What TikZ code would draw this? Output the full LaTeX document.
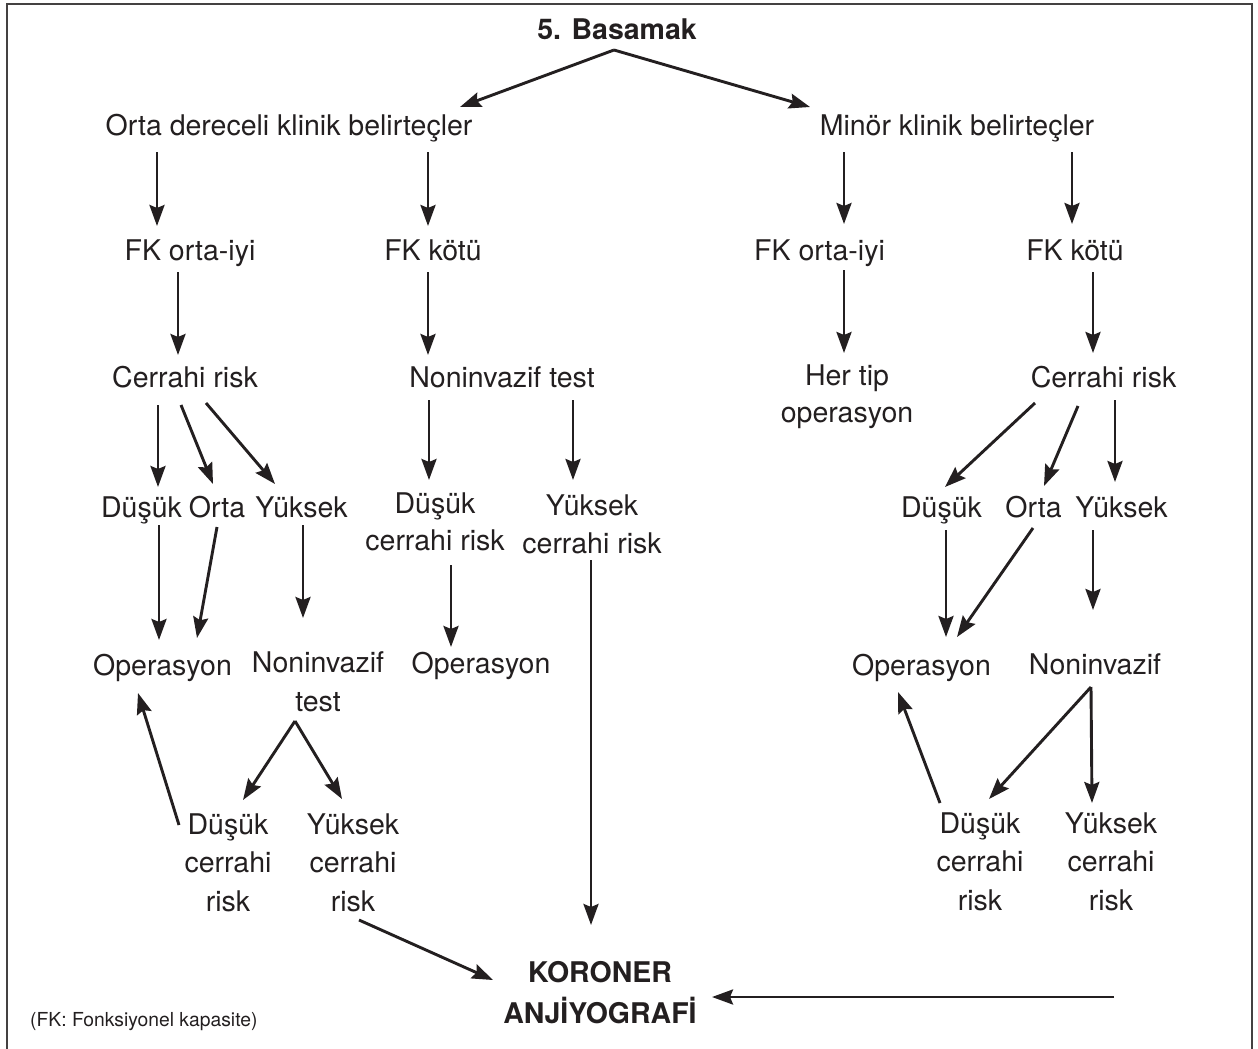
\documentclass[tikz,border=0pt]{standalone}
\usepackage{fontspec}
\setmainfont{TeX Gyre Heros}
\usetikzlibrary{arrows.meta,calc}
\definecolor{ink}{HTML}{231F20}
\begin{document}
\begin{tikzpicture}[x=1pt,y=-1pt,
  lbl/.style={inner sep=0pt, anchor=base, align=center, text=ink,
    font=\fontsize{28.5}{38.5}\selectfont},
  boldlbl/.style={lbl, font=\fontsize{28.5}{41}\selectfont\bfseries},
  arr/.style={draw=ink, line width=2.9pt,
    -{Stealth[length=21pt,width=15pt,inset=3pt]}},
  frame/.style={draw=ink!85, line width=2pt}]
\useasboundingbox (0,0) rectangle (1258,1049);
\draw[frame] (6.5,1060) -- (6.5,4) -- (1252,4) -- (1252,1060);

% nodes (base = baseline of the last line)
\node[boldlbl] (top) at (617,40) {5. Basamak};
\node[lbl] (o) at (289,135) {Orta dereceli klinik belirteçler};
\node[lbl] (m) at (957,135) {Minör klinik belirteçler};
\node[lbl] (fk1) at (190,260) {FK orta-iyi};
\node[lbl] (fk2) at (433,260) {FK kötü};
\node[lbl] (fk3) at (819.5,260) {FK orta-iyi};
\node[lbl] (fk4) at (1075,260) {FK kötü};
\node[lbl] (cr1) at (185,387) {Cerrahi risk};
\node[lbl] (nt) at (502,387) {Noninvazif test};
\node[lbl, font=\fontsize{28.5}{37}\selectfont] (ht) at (847,422) {Her tip\\operasyon};
\node[lbl] (cr2) at (1103.5,387) {Cerrahi risk};
\node[lbl] (d1) at (141.5,517) {Düşük};
\node[lbl] (o1) at (217,517) {Orta};
\node[lbl] (y1) at (301.5,517) {Yüksek};
\node[lbl, font=\fontsize{28.5}{37.5}\selectfont] (dc) at (435,550.5) {Düşük\\cerrahi risk};
\node[lbl, font=\fontsize{28.5}{38}\selectfont] (yc) at (592,553) {Yüksek\\cerrahi risk};
\node[lbl] (d2) at (941.5,517) {Düşük};
\node[lbl] (o2) at (1033.5,517) {Orta};
\node[lbl] (y2) at (1121.5,517) {Yüksek};
\node[lbl] (op1) at (162.5,675) {Operasyon};
\node[lbl, font=\fontsize{28.5}{39}\selectfont] (ni1) at (318,711) {Noninvazif\\test};
\node[lbl] (op2) at (481,673) {Operasyon};
\node[lbl] (op3) at (921.5,675) {Operasyon};
\node[lbl] (ni2) at (1095,674) {Noninvazif};
\node[lbl] (dr1) at (228,911) {Düşük\\cerrahi\\risk};
\node[lbl] (yr1) at (353,911) {Yüksek\\cerrahi\\risk};
\node[lbl] (dr2) at (980,910) {Düşük\\cerrahi\\risk};
\node[lbl] (yr2) at (1111,910) {Yüksek\\cerrahi\\risk};
\node[boldlbl] (kor) at (600,1023) {KORONER\\ANJİYOGRAFİ};
\node[inner sep=0pt, anchor=base west, text=ink,
  font=\fontsize{19.3}{23}\selectfont] (fn) at (30,1026) {(FK: Fonksiyonel kapasite)};
\coordinate (hr) at (1114,997);

% connectors
\draw[arr] ($(top.base)+(-3,10)$) -- ($(o.base)+(171,-28)$);
\draw[arr] ($(top.base)+(-3,10)$) -- ($(m.base)+(-147,-28)$);
\draw[arr] ($(o.base)+(-132,17)$) -- ($(fk1.base)+(-33,-34)$);
\draw[arr] ($(o.base)+(139,17)$) -- ($(fk2.base)+(-5,-34)$);
\draw[arr] ($(m.base)+(-113,17)$) -- ($(fk3.base)+(24.5,-36)$);
\draw[arr] ($(m.base)+(115,17)$) -- ($(fk4.base)+(-3,-36)$);
\draw[arr] ($(fk1.base)+(-12,12)$) -- ($(cr1.base)+(-7,-32)$);
\draw[arr] ($(fk2.base)+(-5,12)$) -- ($(nt.base)+(-74,-32)$);
\draw[arr] ($(fk3.base)+(24.5,10)$) -- ($(ht.base)+(-3,-69)$);
\draw[arr] ($(fk4.base)+(18,12)$) -- ($(cr2.base)+(-10.5,-34)$);
\draw[arr] ($(cr1.base)+(-27,18)$) -- ($(d1.base)+(16.5,-30)$);
\draw[arr] ($(cr1.base)+(-4,18)$) -- ($(o1.base)+(-4,-33)$);
\draw[arr] ($(cr1.base)+(21,16)$) -- ($(y1.base)+(-26.5,-33)$);
\draw[arr] ($(nt.base)+(-73,13)$) -- ($(dc.base)+(-6,-70.5)$);
\draw[arr] ($(nt.base)+(71,13)$) -- ($(yc.base)+(-19,-73)$);
\draw[arr] ($(cr2.base)+(-68.5,16)$) -- ($(d2.base)+(3.5,-30)$);
\draw[arr] ($(cr2.base)+(-25.5,19)$) -- ($(o2.base)+(10.5,-31)$);
\draw[arr] ($(cr2.base)+(11.5,13)$) -- ($(y2.base)+(-6.5,-35)$);
\draw[arr] ($(d1.base)+(17.5,8)$) -- ($(op1.base)+(-3.5,-35)$);
\draw[arr] ($(o1.base)+(0,10)$) -- ($(op1.base)+(34.5,-37)$);
\draw[arr] ($(y1.base)+(1.5,8)$) -- ($(ni1.base)+(-15,-93)$);
\draw[arr] ($(dc.base)+(16,14.5)$) -- ($(op2.base)+(-30,-26)$);
\draw[arr] ($(yc.base)+(-1,7)$) -- ($(kor.base)+(-9,-98)$);
\draw[arr] ($(ni1.base)+(-23,10)$) -- ($(dr1.base)+(15,-111)$);
\draw[arr] ($(ni1.base)+(-23,10)$) -- ($(yr1.base)+(-11,-112)$);
\draw[arr] ($(dr1.base)+(-49,-86)$) -- ($(op1.base)+(-24.5,18)$);
\draw[arr] ($(yr1.base)+(6,9)$) -- ($(kor.base)+(-107,-43)$);
\draw[arr] ($(ni2.base)+(-4,13)$) -- ($(dr2.base)+(9,-111)$);
\draw[arr] ($(ni2.base)+(-4,13)$) -- ($(yr2.base)+(-19,-107)$);
\draw[arr] ($(y2.base)+(-28.5,13)$) -- ($(ni2.base)+(-2,-64)$);
\draw[arr] ($(d2.base)+(4.5,13)$) -- ($(op3.base)+(24.5,-38)$);
\draw[arr] ($(o2.base)+(-0.5,11)$) -- ($(op3.base)+(35.5,-38)$);
\draw[arr] ($(dr2.base)+(-40,-107)$) -- ($(op3.base)+(-23.5,17)$);
\draw[arr] (hr) -- ($(kor.base)+(112,-26)$);
\end{tikzpicture}
\end{document}
